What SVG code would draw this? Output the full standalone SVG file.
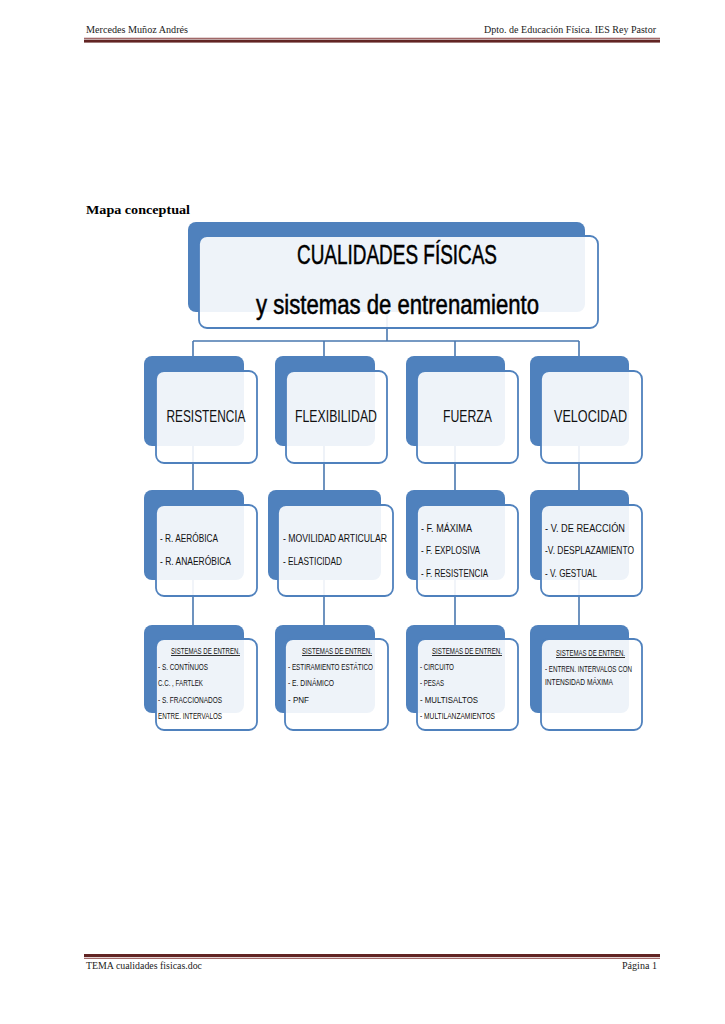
<svg xmlns="http://www.w3.org/2000/svg" width="725" height="1024" viewBox="0 0 725 1024">
<style>
.hdr{font-family:"Liberation Serif","DejaVu Serif",serif;font-size:10px;fill:#222}
.back{fill:#4f81bd}
.front{fill:#ffffff;fill-opacity:0.9;stroke:#4f81bd;stroke-width:1.8}
.conn{stroke:#4a78b0;stroke-width:1.6;fill:none}
.t1{font-family:"Liberation Sans","Arial",sans-serif;font-size:27px;fill:#000;stroke:#000;stroke-width:0.5;text-anchor:middle}
.t2{font-family:"Liberation Sans","Arial",sans-serif;font-size:17px;fill:#111;text-anchor:middle}
.t3{font-family:"Liberation Sans","Arial",sans-serif;font-size:11px;fill:#111}
.t4{font-family:"Liberation Sans","Arial",sans-serif;font-size:8.5px;fill:#111}
.t4c{font-family:"Liberation Sans","Arial",sans-serif;font-size:8.5px;fill:#111;text-anchor:middle;text-decoration:underline}
</style>
<rect width="725" height="1024" fill="#fff"/>
<g id="header">
<text class="hdr" x="86" y="33" textLength="102" lengthAdjust="spacingAndGlyphs">Mercedes Muñoz Andrés</text>
<text class="hdr" x="484" y="33" textLength="172" lengthAdjust="spacingAndGlyphs">Dpto. de Educación Física. IES Rey Pastor</text>
<rect x="84" y="37.8" width="576" height="0.9" fill="#7a2a2a"/>
<rect x="84" y="39.6" width="576" height="3" fill="#622423"/>
</g>
<g id="footer">
<rect x="84" y="954" width="576" height="3" fill="#622423"/>
<rect x="84" y="957.8" width="576" height="0.9" fill="#7a2a2a"/>
<text class="hdr" x="86" y="969" textLength="116" lengthAdjust="spacingAndGlyphs">TEMA cualidades fisicas.doc</text>
<text class="hdr" x="622" y="969" textLength="35" lengthAdjust="spacingAndGlyphs">Página 1</text>
</g>
<text x="86" y="214" font-family="Liberation Serif,Times New Roman,serif" font-size="13" font-weight="bold" fill="#000" textLength="104" lengthAdjust="spacingAndGlyphs">Mapa conceptual</text>
<g id="connectors">
<path class="conn" d="M387 310 V341 M193 341 H579 M193 341 V463 M324 341 V463 M455 341 V463 M579 341 V463"/>
<path class="conn" d="M193 446 V490 M324 446 V490 M455 446 V490 M579 446 V490"/>
<path class="conn" d="M193 580 V625 M324 580 V625 M455 580 V625 M579 580 V625"/>
</g>
<g id="title">
<rect class="back" x="188" y="222" width="397" height="90" rx="8"/>
<rect class="front" x="199" y="236" width="399" height="92" rx="8"/>
<text class="t1" x="397" y="264" textLength="200" lengthAdjust="spacingAndGlyphs">CUALIDADES FÍSICAS</text>
<text class="t1" x="397.5" y="314" textLength="283" lengthAdjust="spacingAndGlyphs">y sistemas de entrenamiento</text>
</g>
<g id="resistencia">
<rect class="back" x="144" y="356" width="100" height="90" rx="8"/>
<rect class="front" x="156" y="371" width="101" height="92" rx="8"/>
<text class="t2" x="206" y="422" textLength="79" lengthAdjust="spacingAndGlyphs">RESISTENCIA</text>
</g>
<g id="flexibilidad">
<rect class="back" x="275" y="356" width="100" height="90" rx="8"/>
<rect class="front" x="286" y="371" width="101" height="92" rx="8"/>
<text class="t2" x="336" y="422" textLength="82" lengthAdjust="spacingAndGlyphs">FLEXIBILIDAD</text>
</g>
<g id="fuerza">
<rect class="back" x="406" y="356" width="99" height="90" rx="8"/>
<rect class="front" x="417" y="371" width="101" height="92" rx="8"/>
<text class="t2" x="467.5" y="422" textLength="49" lengthAdjust="spacingAndGlyphs">FUERZA</text>
</g>
<g id="velocidad">
<rect class="back" x="530" y="356" width="99" height="90" rx="8"/>
<rect class="front" x="541" y="371" width="101" height="92" rx="8"/>
<text class="t2" x="590.5" y="422" textLength="73" lengthAdjust="spacingAndGlyphs">VELOCIDAD</text>
</g>
<g id="tipos-resistencia">
<rect class="back" x="144" y="490" width="100" height="90" rx="8"/>
<rect class="front" x="156" y="505" width="101" height="91" rx="8"/>
<text class="t3" x="160" y="542" textLength="58" lengthAdjust="spacingAndGlyphs">- R. AERÓBICA</text>
<text class="t3" x="160" y="565" textLength="71" lengthAdjust="spacingAndGlyphs">- R. ANAERÓBICA</text>
</g>
<g id="tipos-flexibilidad">
<rect class="back" x="268" y="490" width="113" height="90" rx="8"/>
<rect class="front" x="278" y="505" width="115" height="91" rx="8"/>
<text class="t3" x="283" y="542" textLength="104" lengthAdjust="spacingAndGlyphs">- MOVILIDAD ARTICULAR</text>
<text class="t3" x="283" y="565" textLength="59" lengthAdjust="spacingAndGlyphs">- ELASTICIDAD</text>
</g>
<g id="tipos-fuerza">
<rect class="back" x="406" y="490" width="99" height="90" rx="8"/>
<rect class="front" x="417" y="505" width="101" height="91" rx="8"/>
<text class="t3" x="421" y="532" textLength="51" lengthAdjust="spacingAndGlyphs">- F. MÁXIMA</text>
<text class="t3" x="421" y="554" textLength="59" lengthAdjust="spacingAndGlyphs">- F. EXPLOSIVA</text>
<text class="t3" x="421" y="577" textLength="67" lengthAdjust="spacingAndGlyphs">- F. RESISTENCIA</text>
</g>
<g id="tipos-velocidad">
<rect class="back" x="530" y="490" width="99" height="90" rx="8"/>
<rect class="front" x="541" y="505" width="101" height="91" rx="8"/>
<text class="t3" x="545" y="532" textLength="80" lengthAdjust="spacingAndGlyphs">- V. DE REACCIÓN</text>
<text class="t3" x="545" y="554" textLength="89" lengthAdjust="spacingAndGlyphs">-V. DESPLAZAMIENTO</text>
<text class="t3" x="545" y="577" textLength="52" lengthAdjust="spacingAndGlyphs">- V. GESTUAL</text>
</g>
<g id="sistemas-resistencia">
<rect class="back" x="144" y="625" width="100" height="88" rx="8"/>
<rect class="front" x="156" y="639" width="101" height="91" rx="8"/>
<text class="t4c" x="205.5" y="654" textLength="69" lengthAdjust="spacingAndGlyphs">SISTEMAS DE ENTREN.</text>
<text class="t4" x="158" y="670" textLength="50" lengthAdjust="spacingAndGlyphs">- S. CONTÍNUOS</text>
<text class="t4" x="158" y="686" textLength="45" lengthAdjust="spacingAndGlyphs">C.C. , FARTLEK</text>
<text class="t4" x="158" y="703" textLength="64" lengthAdjust="spacingAndGlyphs">- S. FRACCIONADOS</text>
<text class="t4" x="158" y="719" textLength="64" lengthAdjust="spacingAndGlyphs">ENTRE. INTERVALOS</text>
</g>
<g id="sistemas-flexibilidad">
<rect class="back" x="275" y="625" width="100" height="88" rx="8"/>
<rect class="front" x="285" y="639" width="103" height="91" rx="8"/>
<text class="t4c" x="337" y="654" textLength="70" lengthAdjust="spacingAndGlyphs">SISTEMAS DE ENTREN.</text>
<text class="t4" x="288" y="670" textLength="85" lengthAdjust="spacingAndGlyphs">- ESTIRAMIENTO ESTÁTICO</text>
<text class="t4" x="288" y="686" textLength="46" lengthAdjust="spacingAndGlyphs">- E. DINÁMICO</text>
<text class="t4" x="288" y="703" textLength="21" lengthAdjust="spacingAndGlyphs">- PNF</text>
</g>
<g id="sistemas-fuerza">
<rect class="back" x="406" y="625" width="99" height="88" rx="8"/>
<rect class="front" x="417" y="639" width="101" height="91" rx="8"/>
<text class="t4c" x="467" y="654" textLength="70" lengthAdjust="spacingAndGlyphs">SISTEMAS DE ENTREN.</text>
<text class="t4" x="420" y="670" textLength="34" lengthAdjust="spacingAndGlyphs">- CIRCUITO</text>
<text class="t4" x="420" y="686" textLength="24" lengthAdjust="spacingAndGlyphs">- PESAS</text>
<text class="t4" x="420" y="703" textLength="58" lengthAdjust="spacingAndGlyphs">- MULTISALTOS</text>
<text class="t4" x="420" y="719" textLength="75" lengthAdjust="spacingAndGlyphs">- MULTILANZAMIENTOS</text>
</g>
<g id="sistemas-velocidad">
<rect class="back" x="530" y="625" width="99" height="88" rx="8"/>
<rect class="front" x="541" y="639" width="101" height="91" rx="8"/>
<text class="t4c" x="590.5" y="656" textLength="69" lengthAdjust="spacingAndGlyphs">SISTEMAS DE ENTREN.</text>
<text class="t4" x="545" y="672" textLength="87" lengthAdjust="spacingAndGlyphs">- ENTREN. INTERVALOS CON</text>
<text class="t4" x="545" y="685" textLength="68" lengthAdjust="spacingAndGlyphs">INTENSIDAD MÁXIMA</text>
</g>
</svg>
